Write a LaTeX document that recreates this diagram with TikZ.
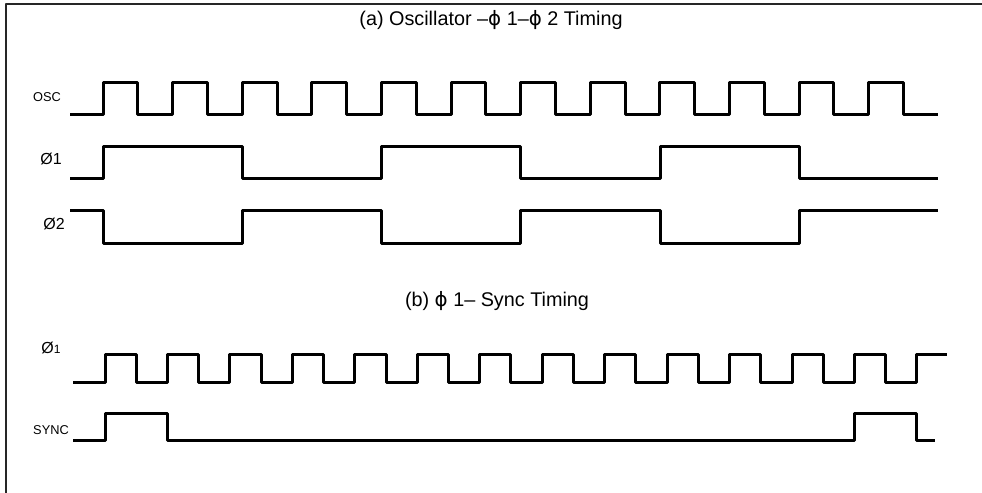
\documentclass[tikz,border=0pt]{standalone}
\usepackage{fontspec}
\setmainfont{Liberation Sans}
\newfontfamily\phifont{DejaVu Sans}
\newcommand{\ph}{{\phifont ϕ}}

\begin{document}
\begin{tikzpicture}[x=0.5pt, y=-0.5pt, line join=round,
    wave/.style={line width=1.5pt},
    frame/.style={line width=0.9pt, black!85},
    sig/.style={inner sep=0pt, font=\fontsize{8}{9}\selectfont},
    sigsmall/.style={inner sep=0pt, font=\fontsize{6.4}{7}\selectfont},
    caption/.style={inner sep=0pt, font=\fontsize{9.9}{11}\selectfont}]
    \useasboundingbox (0,0) rectangle (982,493);

    \def\Pa{69.6}   % osc period
    \def\Pb{62.46}  % phi1 period, part (b)

    % frame
    \draw[frame] (6,493) -- (6,4) -- (982,4);

    % part (a)
    \node[caption] (capA) at (491,20) {(a) Oscillator –\ph\ 1–\ph\ 2 Timing};
    \node[sigsmall] (osc) at (47,97) {OSC};
    \node[sig] (phA) at (51,159) {Ø1};
    \node[sig] (phB) at (54,224) {Ø2};

    % OSC
    \draw[wave] (70,114)
        foreach \k in {0,...,11} {
            -- ({103+\k*\Pa},114) -- ({103+\k*\Pa},82)
            -- ({103+(\k+0.5)*\Pa},82) -- ({103+(\k+0.5)*\Pa},114)
        } -- (938,114);

    % phi 1
    \draw[wave] (70,178) -- (103,178) -- (103,146) -- (242,146)
        -- (242,178) -- (381,178) -- (381,146) -- (520,146)
        -- (520,178) -- (660,178) -- (660,146) -- (799,146)
        -- (799,178) -- (938,178);

    % phi 2
    \draw[wave] (70,210) -- (103,210) -- (103,243) -- (242,243)
        -- (242,210) -- (381,210) -- (381,243) -- (520,243)
        -- (520,210) -- (660,210) -- (660,243) -- (799,243)
        -- (799,210) -- (938,210);

    % part (b)
    \node[caption] (capB) at (497,301) {(b) \ph\ 1– Sync Timing};
    \node[sig] (phC) at (51,348) {Ø{\fontsize{6}{7}\selectfont 1}};
    \node[sigsmall] (sync) at (51,430) {SYNC};

    % phi 1
    \draw[wave] (73,382)
        foreach \k in {0,...,12} {
            -- ({105+\k*\Pb},382) -- ({105+\k*\Pb},354)
            -- ({105+(\k+0.5)*\Pb},354) -- ({105+(\k+0.5)*\Pb},382)
        } -- ({105+13*\Pb},382) -- ({105+13*\Pb},354) -- (947,354);

    % sync
    \draw[wave] (73,440) -- (105,440) -- (105,413)
        -- ({105+\Pb},413) -- ({105+\Pb},440)
        -- ({105+12*\Pb},440) -- ({105+12*\Pb},413)
        -- ({105+13*\Pb},413) -- ({105+13*\Pb},440) -- (935,440);
\end{tikzpicture}
\end{document}
